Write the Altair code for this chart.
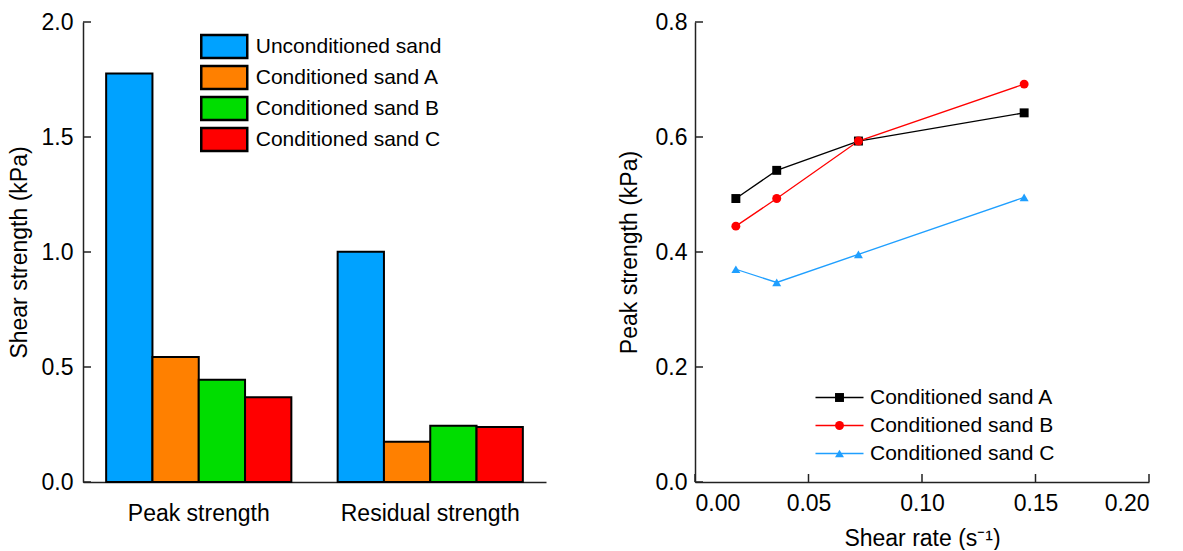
import altair as alt
import pandas as pd

# ---------------- data ----------------
groups = ["Peak strength", "Residual strength"]
bar_series = ["Unconditioned sand", "Conditioned sand A", "Conditioned sand B", "Conditioned sand C"]
peak_vals = [1.776, 0.544, 0.445, 0.369]
resid_vals = [1.001, 0.175, 0.245, 0.239]
bar_colors = ["#00A2FF", "#FF8000", "#00DD00", "#FF0000"]
left_yticks = [0.0, 0.5, 1.0, 1.5, 2.0]

shear_rate = [0.018, 0.036, 0.072, 0.145]
sand_a = [0.493, 0.542, 0.593, 0.642]
sand_b = [0.445, 0.493, 0.593, 0.692]
sand_c = [0.370, 0.347, 0.396, 0.495]
line_series = ["Conditioned sand A", "Conditioned sand B", "Conditioned sand C"]
line_colors = ["#000000", "#FF0000", "#1F9FFF"]
line_shapes = ["square", "circle", "triangle-up"]
right_xticks = [0.0, 0.05, 0.10, 0.15, 0.20]
right_yticks = [0.0, 0.2, 0.4, 0.6, 0.8]

FONT = "Liberation Sans"
LW, LH = 463, 460
RW, RH = 454, 460
TICK = 8
DOM = "#222222"

# ---------------- left: grouped bars ----------------
bars_df = pd.DataFrame({
    "group": [g for g in groups for _ in bar_series],
    "series": bar_series * 2,
    "value": peak_vals + resid_vals,
})
lt_df = pd.DataFrame({"t": left_yticks})
ly_scale = alt.Scale(domain=[0, 2], nice=False)
ly_axis = alt.Axis(title="Shear strength (kPa)", values=left_yticks, format=".1f",
                   ticks=False, tickSize=0, labelPadding=10, titlePadding=10,
                   grid=False, domainColor=DOM, domainWidth=1.5)

bars = alt.Chart(bars_df).mark_bar(stroke="black", strokeWidth=2, opacity=1).encode(
    x=alt.X("group:N", sort=groups,
            scale=alt.Scale(paddingInner=0.2, paddingOuter=0.1),
            axis=alt.Axis(title=None, labelAngle=0, ticks=False, tickSize=0,
                          labelPadding=20, domainColor=DOM, domainWidth=1.5)),
    xOffset=alt.XOffset("series:N", sort=bar_series,
                        scale=alt.Scale(paddingInner=0, paddingOuter=0)),
    y=alt.Y("value:Q", scale=ly_scale, axis=ly_axis),
    color=alt.Color("series:N", sort=bar_series,
                    scale=alt.Scale(domain=bar_series, range=bar_colors),
                    legend=alt.Legend(title=None, orient="none", legendX=117, legendY=14,
                                      symbolType="M-4,-2H4V2H-4Z", symbolSize=132.25,
                                      symbolStrokeColor="black", symbolStrokeWidth=2.5,
                                      symbolOffset=13.75, symbolOpacity=1,
                                      labelFontSize=21, labelFont=FONT, labelLimit=400,
                                      labelOffset=21, rowPadding=-2, padding=0)),
)
lticks = alt.Chart(lt_df).mark_rule(color=DOM, strokeWidth=1.5).encode(
    y=alt.Y("t:Q", scale=ly_scale, axis=ly_axis),
    x=alt.value(0), x2=alt.value(TICK),
)
left = alt.layer(bars, lticks).properties(width=LW, height=LH)

# ---------------- right: lines with markers ----------------
line_df = pd.DataFrame({
    "rate": shear_rate * 3,
    "strength": sand_a + sand_b + sand_c,
    "series": [s for s in line_series for _ in shear_rate],
})
rx_scale = alt.Scale(domain=[0, 0.2], nice=False)
ry_scale = alt.Scale(domain=[0, 0.8], nice=False)
x_axis = alt.Axis(title="Shear rate (s⁻¹)", values=right_xticks, format=".2f",
                  ticks=False, tickSize=0, labelPadding=10, titlePadding=12,
                  grid=False, domainColor=DOM, domainWidth=1.5)
y_axis = alt.Axis(title="Peak strength (kPa)", values=right_yticks, format=".1f",
                  ticks=False, tickSize=0, labelPadding=8, titlePadding=14,
                  grid=False, domainColor=DOM, domainWidth=1.5)

LEG = dict(title=None, orient="none", legendX=120, legendY=365,
           labelFontSize=21, labelFont=FONT, labelLimit=400, labelOffset=20,
           symbolOffset=14, rowPadding=6, padding=0, symbolOpacity=1)
line_legend = alt.Legend(symbolType="M-6,0H6", symbolSize=64, symbolStrokeWidth=1.3, **LEG)
pt_legend = alt.Legend(symbolSize=80, labelOpacity=0, **LEG)

lines = alt.Chart(line_df).mark_line(strokeWidth=1.3).encode(
    x=alt.X("rate:Q", scale=rx_scale, axis=x_axis),
    y=alt.Y("strength:Q", scale=ry_scale, axis=y_axis),
    color=alt.Color("series:N", sort=line_series,
                    scale=alt.Scale(domain=line_series, range=line_colors),
                    legend=line_legend),
)
points = alt.Chart(line_df).mark_point(filled=True, size=80, opacity=1).encode(
    x=alt.X("rate:Q", scale=rx_scale, axis=x_axis),
    y=alt.Y("strength:Q", scale=ry_scale, axis=y_axis),
    color=alt.Color("series:N", sort=line_series,
                    scale=alt.Scale(domain=line_series, range=line_colors),
                    legend=pt_legend),
    shape=alt.Shape("series:N", sort=line_series,
                    scale=alt.Scale(domain=line_series, range=line_shapes),
                    legend=pt_legend),
)
rx_df = pd.DataFrame({"t": right_xticks})
ry_df = pd.DataFrame({"t": right_yticks})
rxticks = alt.Chart(rx_df).mark_rule(color=DOM, strokeWidth=1.5).encode(
    x=alt.X("t:Q", scale=rx_scale, axis=x_axis),
    y=alt.value(RH), y2=alt.value(RH - TICK),
)
ryticks = alt.Chart(ry_df).mark_rule(color=DOM, strokeWidth=1.5).encode(
    y=alt.Y("t:Q", scale=ry_scale, axis=y_axis),
    x=alt.value(0), x2=alt.value(TICK),
)
right = alt.layer(lines, points, rxticks, ryticks).resolve_scale(
    color="independent", shape="independent"
).resolve_legend(color="independent", shape="independent").properties(width=RW, height=RH)

chart = alt.hconcat(left, right, spacing=72).properties(
    padding={"left": 8, "top": 11, "right": 5, "bottom": 0}
).configure_view(stroke=None).configure_axis(
    labelFont=FONT, titleFont=FONT, labelFontSize=23, titleFontSize=23,
    labelColor="black", titleColor="black", titleFontWeight="normal",
).configure_legend(labelColor="black")

chart.save("out.html", embed_options={"renderer": "svg", "actions": False})
